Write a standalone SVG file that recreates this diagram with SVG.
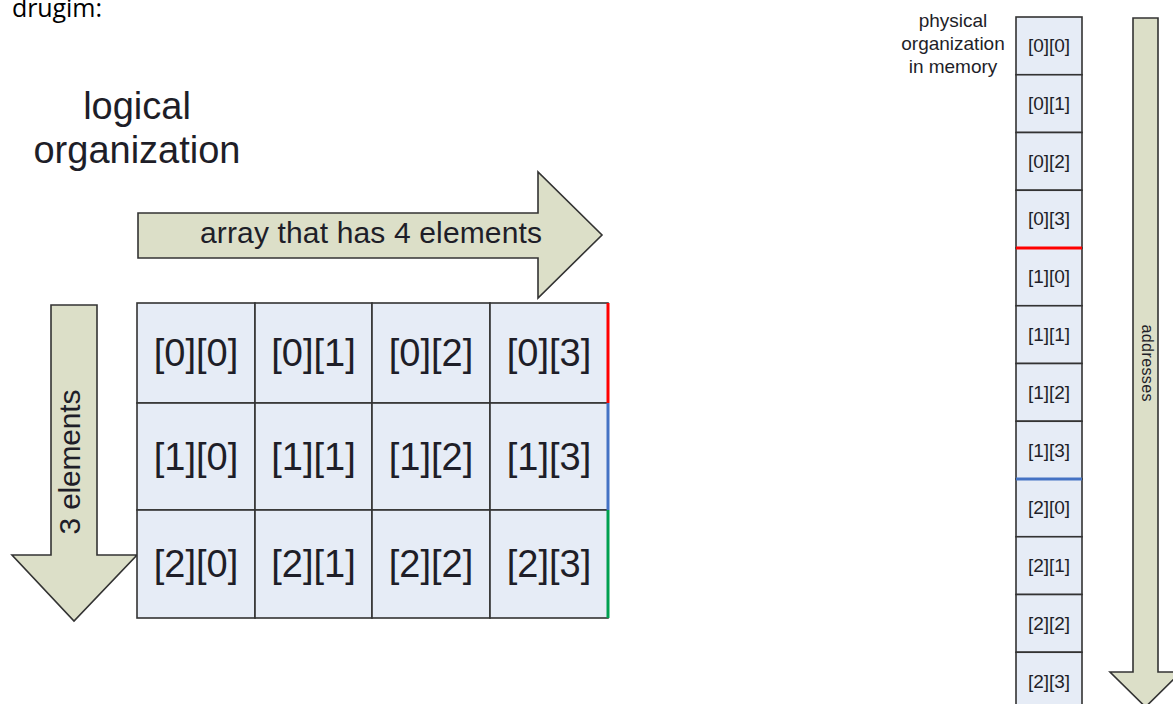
<svg xmlns="http://www.w3.org/2000/svg" width="1173" height="704" viewBox="0 0 1173 704">
<style>
.t{font-family:"Liberation Sans",Arial,sans-serif;fill:#1e1e28}
.cell{fill:#e6ecf6;stroke:#333;stroke-width:1.6}
.arr{fill:#dcdfc8;stroke:#333;stroke-width:1.6;stroke-linejoin:miter}
.big{font-size:38px;text-anchor:middle}
.sm{font-size:19px;text-anchor:middle}
</style>
<rect width="1173" height="704" fill="#fff"/>
<text x="12" y="17" font-family="'Open Sans',sans-serif" font-size="25" fill="#000" textLength="90">drugim:</text>
<g id="title-logical">
<text class="t" x="137" y="119" font-size="38" text-anchor="middle">logical</text>
<text class="t" x="137" y="163" font-size="38" text-anchor="middle">organization</text>
</g>
<g id="connectors">
<g id="arrow-row">
<polygon class="arr" points="138,213 538,213 538,172 602,235 538,298 538,258 138,258"/>
<text class="t" x="371" y="243" font-size="30" text-anchor="middle" textLength="342">array that has 4 elements</text>
</g>
<g id="arrow-col">
<polygon class="arr" points="51,305 97,305 97,555 137,555 74,621 12,555 51,555"/>
<text class="t" transform="translate(80,462) rotate(-90)" font-size="30" text-anchor="middle" textLength="145">3 elements</text>
</g>
<g id="arrow-addr">
<polygon class="arr" points="1133,18 1158,18 1158,672 1181,672 1145.5,707 1110,672 1133,672"/>
<text class="t" transform="translate(1142,363) rotate(90)" font-size="16" text-anchor="middle" textLength="77">addresses</text>
</g>
</g>
<g id="grid">
<g id="c00"><rect class="cell" x="137" y="303" width="118" height="100"/><text class="t big" x="196" y="366">[0][0]</text></g>
<g id="c01"><rect class="cell" x="255" y="303" width="117" height="100"/><text class="t big" x="313.5" y="366">[0][1]</text></g>
<g id="c02"><rect class="cell" x="372" y="303" width="118" height="100"/><text class="t big" x="431" y="366">[0][2]</text></g>
<g id="c03"><rect class="cell" x="490" y="303" width="118" height="100"/><text class="t big" x="549" y="366">[0][3]</text></g>
<g id="c10"><rect class="cell" x="137" y="403" width="118" height="107"/><text class="t big" x="196" y="470">[1][0]</text></g>
<g id="c11"><rect class="cell" x="255" y="403" width="117" height="107"/><text class="t big" x="313.5" y="470">[1][1]</text></g>
<g id="c12"><rect class="cell" x="372" y="403" width="118" height="107"/><text class="t big" x="431" y="470">[1][2]</text></g>
<g id="c13"><rect class="cell" x="490" y="403" width="118" height="107"/><text class="t big" x="549" y="470">[1][3]</text></g>
<g id="c20"><rect class="cell" x="137" y="510" width="118" height="108"/><text class="t big" x="196" y="577">[2][0]</text></g>
<g id="c21"><rect class="cell" x="255" y="510" width="117" height="108"/><text class="t big" x="313.5" y="577">[2][1]</text></g>
<g id="c22"><rect class="cell" x="372" y="510" width="118" height="108"/><text class="t big" x="431" y="577">[2][2]</text></g>
<g id="c23"><rect class="cell" x="490" y="510" width="118" height="108"/><text class="t big" x="549" y="577">[2][3]</text></g>
<line x1="608" y1="303" x2="608" y2="403" stroke="#ff0000" stroke-width="3"/>
<line x1="608" y1="403" x2="608" y2="510" stroke="#4472c4" stroke-width="3"/>
<line x1="608" y1="510" x2="608" y2="618" stroke="#00a050" stroke-width="3"/>
</g>
<g id="label-physical">
<text class="t sm" x="953" y="27">physical</text>
<text class="t sm" x="953" y="50">organization</text>
<text class="t sm" x="953" y="73">in memory</text>
</g>
<g id="memory">
<g id="m0"><rect class="cell" x="1016" y="17" width="66" height="57.75"/><text class="t sm" x="1049" y="52">[0][0]</text></g>
<g id="m1"><rect class="cell" x="1016" y="74.75" width="66" height="57.75"/><text class="t sm" x="1049" y="110">[0][1]</text></g>
<g id="m2"><rect class="cell" x="1016" y="132.5" width="66" height="57.75"/><text class="t sm" x="1049" y="168">[0][2]</text></g>
<g id="m3"><rect class="cell" x="1016" y="190.25" width="66" height="57.75"/><text class="t sm" x="1049" y="225">[0][3]</text></g>
<g id="m4"><rect class="cell" x="1016" y="248" width="66" height="57.75"/><text class="t sm" x="1049" y="283">[1][0]</text></g>
<g id="m5"><rect class="cell" x="1016" y="305.75" width="66" height="57.75"/><text class="t sm" x="1049" y="341">[1][1]</text></g>
<g id="m6"><rect class="cell" x="1016" y="363.5" width="66" height="57.75"/><text class="t sm" x="1049" y="399">[1][2]</text></g>
<g id="m7"><rect class="cell" x="1016" y="421.25" width="66" height="57.75"/><text class="t sm" x="1049" y="457">[1][3]</text></g>
<g id="m8"><rect class="cell" x="1016" y="479" width="66" height="57.75"/><text class="t sm" x="1049" y="514">[2][0]</text></g>
<g id="m9"><rect class="cell" x="1016" y="536.75" width="66" height="57.75"/><text class="t sm" x="1049" y="572">[2][1]</text></g>
<g id="m10"><rect class="cell" x="1016" y="594.5" width="66" height="57.75"/><text class="t sm" x="1049" y="630">[2][2]</text></g>
<g id="m11"><rect class="cell" x="1016" y="652.25" width="66" height="57.75"/><text class="t sm" x="1049" y="688">[2][3]</text></g>
<line x1="1016" y1="248" x2="1082" y2="248" stroke="#ff0000" stroke-width="3"/>
<line x1="1016" y1="479" x2="1082" y2="479" stroke="#4472c4" stroke-width="3"/>
</g>
</svg>
